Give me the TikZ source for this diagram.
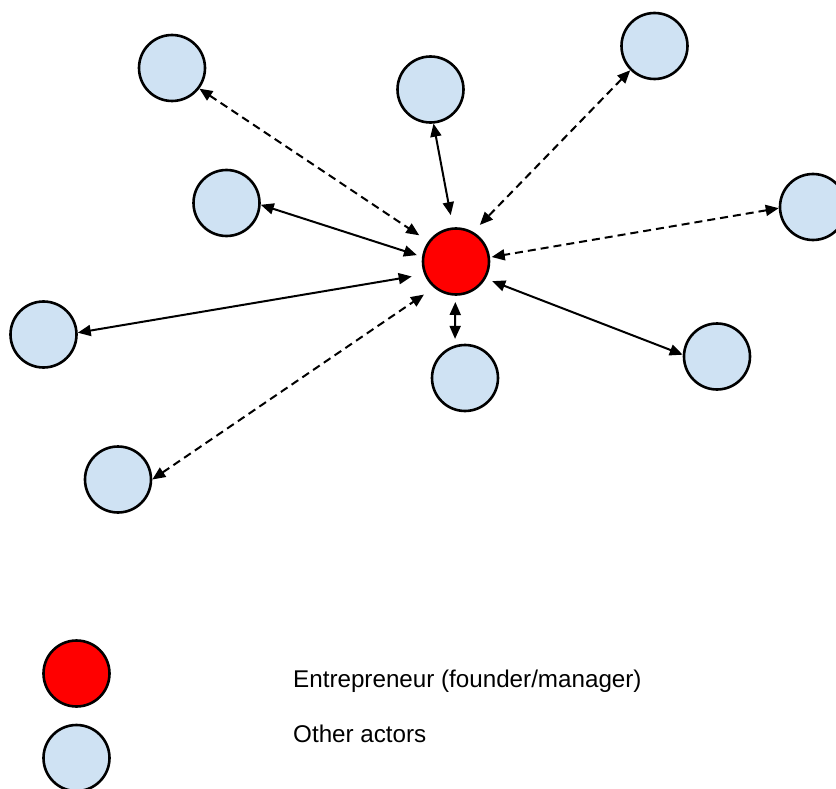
\documentclass[tikz,border=0pt]{standalone}
\usepackage{fontspec}
\setmainfont{Liberation Sans}
\usetikzlibrary{arrows.meta}
\definecolor{actorblue}{RGB}{207,226,243}
\definecolor{entred}{RGB}{255,0,0}
\tikzset{
  actor/.style={circle, draw=black, line width=2.6pt, fill=actorblue, minimum size=66pt, inner sep=0pt},
  entre/.style={circle, draw=black, line width=2.6pt, fill=entred, minimum size=66pt, inner sep=0pt},
  link/.style={line width=2pt, {Triangle[length=13pt,width=11pt]}-{Triangle[length=13pt,width=11pt]}},
  weak/.style={link, dash pattern=on 8pt off 5pt},
  legendtext/.style={anchor=base west, inner sep=0pt, font=\fontsize{24.2}{29}\selectfont}
}
\begin{document}
\begin{tikzpicture}[x=1pt,y=-1pt]
\useasboundingbox (0,0) rectangle (836,789);
\node[entre] (e) at (456,261.5) {};
\node[actor] (a1) at (172,68) {};
\node[actor] (a2) at (430.5,89.5) {};
\node[actor] (a3) at (654.5,46) {};
\node[actor] (a4) at (226.5,203) {};
\node[actor] (a5) at (813,207) {};
\node[actor] (a6) at (43.5,334.5) {};
\node[actor] (a7) at (465,378) {};
\node[actor] (a8) at (717,356.5) {};
\node[actor] (a9) at (118,479.5) {};

\draw[weak, shorten >=10.8pt] (a1.-37.7) -- (e.144.2);
\draw[link, shorten >=12.4pt] (a2.-85.5) -- (e.95.3);
\draw[weak, shorten >=9.6pt] (a3.-135.2) -- (e.60.4);
\draw[link, shorten >=5.4pt] (a4.-3.3) -- (e.172);
\draw[weak, shorten >=1.7pt] (a5.182.1) -- (e.7.7);
\draw[link, shorten >=12.7pt] (a6.3.6) -- (e.-158.2);
\draw[link, shorten >=6.2pt, shorten <=6.3pt] (a7.107) -- (e.-91.4);
\draw[link, shorten >=7pt] (a8.177.5) -- (e.-30.2);
\draw[weak, shorten >=12.1pt] (a9.0.8) -- (e.-130.7);

\node[entre] (le) at (76.5,673.5) {};
\node[actor] (la) at (76.5,758) {};
\node[legendtext] (te) at (293,687) {Entrepreneur (founder/manager)};
\node[legendtext] (ta) at (293,742) {Other actors};
\end{tikzpicture}
\end{document}
